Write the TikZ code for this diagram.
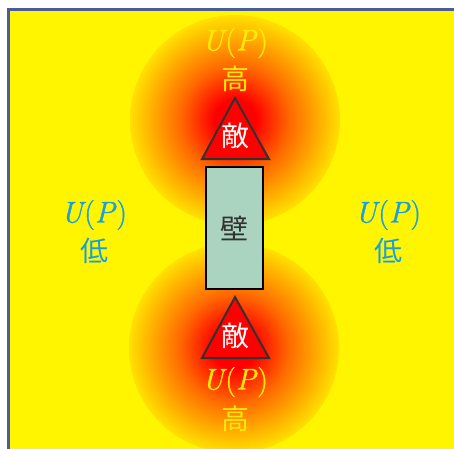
\documentclass[tikz,border=0pt]{standalone}
\usepackage{fontspec}
\newfontfamily\cjk{Noto Sans CJK JP}
\newfontfamily\upf[FakeBold=1.2]{Latin Modern Roman}
\usetikzlibrary{shapes.geometric}
\definecolor{bg}{RGB}{255,245,0}
\definecolor{frame}{RGB}{75,92,153}
\definecolor{hot}{RGB}{255,105,0}
\definecolor{warm}{RGB}{255,175,0}
\definecolor{rim}{RGB}{255,225,0}
\definecolor{hi}{RGB}{255,235,0}
\definecolor{lo}{RGB}{25,160,220}
\definecolor{wall}{RGB}{170,212,192}
\definecolor{edge}{RGB}{50,50,50}
\pgfdeclareradialshading{heat}{\pgfpoint{0bp}{0bp}}{color(0bp)=(red); color(5bp)=(red); color(13bp)=(hot); color(20bp)=(warm); color(25bp)=(rim); color(50bp)=(rim)}
\newcommand{\UP}{{\itshape U}\kern1.5pt({\itshape P}\kern1.5pt)}
\tikzset{
  lbl/.style={font=\upf\fontsize{30}{32}\selectfont, inner sep=0pt},
  kanji/.style={font=\cjk\fontsize{28}{30}\selectfont, inner sep=0pt},
  enemy/.style={draw=edge, fill=red, line width=2pt},
  wallbox/.style={draw=black, fill=wall, line width=2pt, minimum width=57pt, minimum height=122pt, inner sep=0pt},
}
\begin{document}
\begin{tikzpicture}[x=1pt,y=-1pt]
\useasboundingbox (0,0) rectangle (454,448);
\fill[white] (0,0) rectangle (454,448);
\draw[frame, fill=bg, line width=2.5pt] (8.5,9.5) rectangle (480,480);
% heat zones
\shade[shading=heat] (235,120) circle (105);
\shade[shading=heat] (234,348) circle (105);
% enemies
\coordinate (t1a) at (235,98);
\coordinate (t1l) at (202,159);
\coordinate (t1r) at (269,159);
\draw[enemy] (t1a) -- (t1r) -- (t1l) -- cycle;
\node[kanji, text=white] (e1) at (235,136) {敵};
\coordinate (t2a) at (235,297);
\coordinate (t2l) at (202,358);
\coordinate (t2r) at (269,358);
\draw[enemy] (t2a) -- (t2r) -- (t2l) -- cycle;
\node[kanji, text=white] (e2) at (235,336) {敵};
% wall
\node[wallbox] (w) at (234.5,228) {};
\node[kanji, text=edge] (wt) at (234,228) {壁};
% labels
\node[lbl, text=hi] (u1) at (235,43) {\UP};
\node[kanji, text=hi] (h1) at (235,79) {高};
\node[lbl, text=hi] (u2) at (235,382) {\UP};
\node[kanji, text=hi] (h2) at (235,419) {高};
\node[lbl, text=lo] (u3) at (94,215) {\UP};
\node[kanji, text=lo] (l3) at (94,251) {低};
\node[lbl, text=lo] (u4) at (388,215) {\UP};
\node[kanji, text=lo] (l4) at (388,251) {低};
\end{tikzpicture}
\end{document}
